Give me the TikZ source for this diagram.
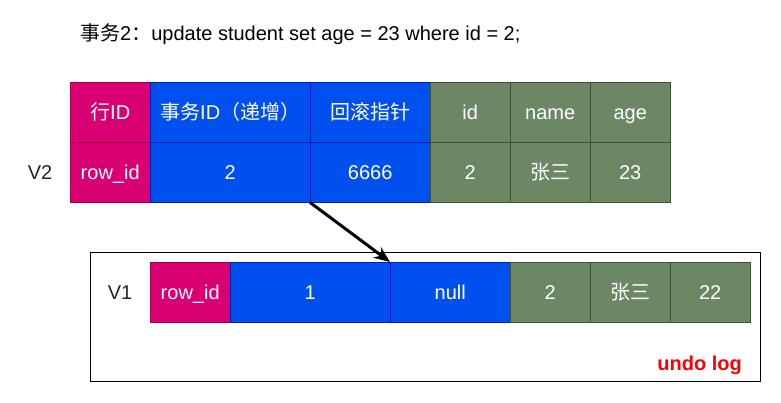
\documentclass[tikz,border=0pt]{standalone}
\usepackage{fontspec}
\setmainfont{Liberation Sans}
\newfontfamily\cjk{Noto Sans CJK SC}
\usetikzlibrary{arrows.meta}
\definecolor{mag}{HTML}{D80073}
\definecolor{magb}{HTML}{A50040}
\definecolor{blu}{HTML}{0050EF}
\definecolor{blub}{HTML}{001DBC}
\definecolor{grn}{HTML}{6D8764}
\definecolor{grnb}{HTML}{3A5431}
\tikzset{
  cell/.style={draw, minimum height=60pt, inner sep=0pt, text height=16pt, text depth=2pt, anchor=north west, text=white, font=\fontsize{20pt}{24pt}\selectfont},
  mc/.style={cell, fill=mag, draw=magb},
  bc/.style={cell, fill=blu, draw=blub},
  gc/.style={cell, fill=grn, draw=grnb},
  lbl/.style={font=\fontsize{20pt}{24pt}\selectfont, text=black!85, inner sep=0pt, text height=16pt, text depth=2pt}
}
\begin{document}
\begin{tikzpicture}[x=1pt,y=-1pt]
\useasboundingbox (0,0) rectangle (781,402);
\node[anchor=west, font=\fontsize{20pt}{24pt}\selectfont, inner sep=0pt, text height=16pt, text depth=2pt] (title) at (80,33) {{\cjk 事务}2{\cjk ：}update student set age = 23 where id = 2;};
% V2 table
\node[mc, minimum width=80pt] (h1) at (70,82) {{\cjk 行}ID};
\node[bc, minimum width=160pt] (h2) at (150,82) {{\cjk 事务}ID{\cjk （递增）}};
\node[bc, minimum width=120pt] (h3) at (310,82) {\cjk 回滚指针};
\node[gc, minimum width=80pt] (h4) at (430,82) {id};
\node[gc, minimum width=80pt] (h5) at (510,82) {name};
\node[gc, minimum width=80pt] (h6) at (590,82) {age};
\node[mc, minimum width=80pt] (r1) at (70,142) {row\_id};
\node[bc, minimum width=160pt] (r2) at (150,142) {2};
\node[bc, minimum width=120pt] (r3) at (310,142) {6666};
\node[gc, minimum width=80pt] (r4) at (430,142) {2};
\node[gc, minimum width=80pt] (r5) at (510,142) {\cjk 张三};
\node[gc, minimum width=80pt] (r6) at (590,142) {23};
\node[lbl] (v2) at (40,172) {V2};
% undo log
\node[draw, line width=1.2pt, minimum width=670pt, minimum height=129pt, anchor=north west, inner sep=0pt] (undo) at (90,252) {};
\node[mc, minimum width=80pt] (u1) at (150,262) {row\_id};
\node[bc, minimum width=160pt] (u2) at (230,262) {1};
\node[bc, minimum width=120pt] (u3) at (390,262) {null};
\node[gc, minimum width=80pt] (u4) at (510,262) {2};
\node[gc, minimum width=80pt] (u5) at (590,262) {\cjk 张三};
\node[gc, minimum width=80pt] (u6) at (670,262) {22};
\node[lbl] (v1) at (120,292) {V1};
\node[text=red, font=\bfseries\fontsize{20pt}{24pt}\selectfont, anchor=east, inner sep=0pt, text height=16pt, text depth=2pt] (ul) at (742,363) {undo log};
\draw[line width=3pt, -{Stealth[length=16pt,width=13pt]}] (r3.south west) -- (u3.north west);
\end{tikzpicture}
\end{document}
